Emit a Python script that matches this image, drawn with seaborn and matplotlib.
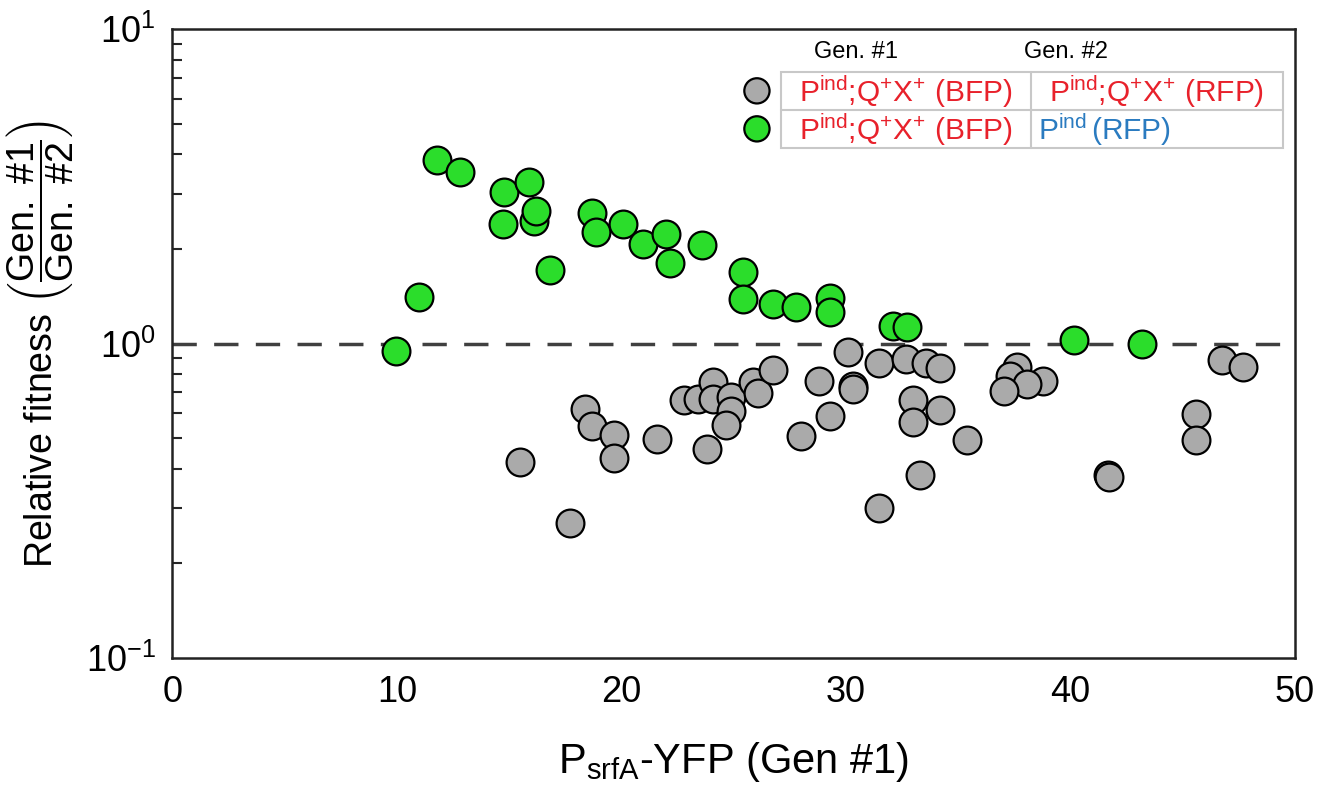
import numpy as np
import pandas as pd
import matplotlib
matplotlib.use('Agg')
import matplotlib.pyplot as plt
import seaborn as sns
from matplotlib.patches import Rectangle

# values
gray_x = [15.49, 18.39, 18.68, 19.69, 19.69, 17.69, 21.59, 22.77, 23.39, 24.07,
          24.07, 24.87, 24.87, 24.66, 23.8, 25.88, 26.1, 26.77, 27.99, 28.79,
          29.28, 30.07, 30.33, 30.33, 31.49, 32.67, 33.56, 34.19, 32.98, 32.98,
          34.19, 35.38, 33.3, 31.49, 37.64, 37.3, 38.79, 38.07, 37.06, 41.68,
          41.7, 46.76, 47.68, 45.57, 45.57]
gray_y = [0.421, 0.620, 0.547, 0.511, 0.432, 0.269, 0.499, 0.660, 0.666, 0.756,
          0.665, 0.676, 0.611, 0.551, 0.461, 0.756, 0.697, 0.823, 0.510, 0.763,
          0.588, 0.942, 0.732, 0.72, 0.869, 0.894, 0.869, 0.839, 0.664, 0.563,
          0.617, 0.492, 0.383, 0.299, 0.843, 0.79, 0.761, 0.746, 0.705, 0.381,
          0.376, 0.886, 0.840, 0.596, 0.492]

green_x = [11.78, 12.79, 14.78, 15.9, 14.71, 16.09, 16.19, 16.8, 11.0, 9.97,
           18.69, 18.89, 20.08, 20.98, 21.99, 22.17, 23.58, 25.41, 25.41, 26.77,
           27.77, 29.3, 29.3, 32.09, 32.71, 40.17, 43.19]
green_y = [3.83, 3.52, 3.04, 3.28, 2.40, 2.45, 2.65, 1.72, 1.41, 0.948,
           2.61, 2.26, 2.40, 2.08, 2.24, 1.80, 2.06, 1.69, 1.39, 1.34,
           1.31, 1.40, 1.26, 1.14, 1.13, 1.03, 1.00]

gray = pd.DataFrame({'x': gray_x, 'y': gray_y})
green = pd.DataFrame({'x': green_x, 'y': green_y})

sns.set_style('white')
plt.rcParams['font.family'] = ['Liberation Sans', 'DejaVu Sans']
plt.rcParams['mathtext.fontset'] = 'custom'
plt.rcParams['mathtext.rm'] = 'Liberation Sans'
plt.rcParams['mathtext.it'] = 'Liberation Sans:italic'
plt.rcParams['mathtext.bf'] = 'Liberation Sans:bold'
plt.rcParams['text.color'] = 'black'
plt.rcParams['axes.labelcolor'] = 'black'

RED = '#e8212b'
BLUE = '#2a7bc0'

fig = plt.figure(figsize=(13.26, 7.97), dpi=100)
ax = fig.add_axes([0.1300, 0.1744, 0.8466, 0.7888])

sns.scatterplot(data=gray, x='x', y='y', ax=ax, s=400, color='#aaaaaa',
                edgecolor='black', linewidth=1.6, zorder=3)
sns.scatterplot(data=green, x='x', y='y', ax=ax, s=400, color='#2bdd2b',
                edgecolor='black', linewidth=1.6, zorder=3)
ax.axhline(1.0, color='#404040', lw=2.5, dashes=(7, 5), zorder=2)

ax.set_yscale('log')
ax.set_xlim(0, 50)
ax.set_ylim(0.1, 10)
ax.set_xticks([0, 10, 20, 30, 40, 50])
ax.tick_params(axis='both', which='major', direction='in', length=11, width=1.5,
               labelsize=26, colors='black', pad=12)
ax.tick_params(axis='y', which='minor', direction='in', length=7, width=1.5, left=True)
ax.tick_params(axis='x', which='minor', bottom=False)
for sp in ax.spines.values():
    sp.set_linewidth(1.8)
    sp.set_color('#222222')

ax.set_xlabel(r'P$_{\mathrm{srfA}}$-YFP (Gen #1)', fontsize=30, labelpad=22)
ax.set_ylabel(r'Relative fitness $\left(\dfrac{\mathrm{Gen.\ \#1}}{\mathrm{Gen.\ \#2}}\right)$',
              fontsize=27, labelpad=8)

# legend table drawn in axes fraction coordinates
def fx(px):
    return (px - 172.5) / (1295 - 172.5)

def fy(py):
    return (658 - py) / (658 - 29.5)

tl, tm, tr = fx(781), fx(1031), fx(1283)
r0, r1, r2 = fy(72), fy(110), fy(148)
ax.add_patch(Rectangle((tl, r2), tr - tl, r0 - r2, transform=ax.transAxes,
                       fill=True, facecolor='white', edgecolor='#c8c8c8', lw=1.5, zorder=4))
ax.plot([tl, tr], [r1, r1], transform=ax.transAxes, color='#c8c8c8', lw=1.5, zorder=5)
ax.plot([tm, tm], [r0, r2], transform=ax.transAxes, color='#c8c8c8', lw=1.5, zorder=5)

ax.text(fx(856), fy(52), 'Gen. #1', transform=ax.transAxes, ha='center', va='center',
        fontsize=17, zorder=6)
ax.text(fx(1066), fy(52), 'Gen. #2', transform=ax.transAxes, ha='center', va='center',
        fontsize=17, zorder=6)

lab = r'P$^{\mathrm{ind}}$;Q$^{+}$X$^{+}$'
fs = 21.5
ax.text(fx(906), fy(92), lab + ' (BFP)', transform=ax.transAxes, ha='center',
        va='center', fontsize=fs, color=RED, zorder=6)
ax.text(fx(1157), fy(92), lab + ' (RFP)', transform=ax.transAxes, ha='center',
        va='center', fontsize=fs, color=RED, zorder=6)
ax.text(fx(906), fy(130), lab + ' (BFP)', transform=ax.transAxes, ha='center',
        va='center', fontsize=fs, color=RED, zorder=6)
ax.text(fx(1038), fy(130), r'P$^{\mathrm{ind}}\,$(RFP)', transform=ax.transAxes, ha='left',
        va='center', fontsize=fs, color=BLUE, zorder=6)

ax.scatter([fx(757), fx(757)], [fy(91), fy(129)], transform=ax.transAxes, s=330,
           c=['#aaaaaa', '#2bdd2b'], edgecolors='black', linewidths=1.6, zorder=6,
           clip_on=False)

fig.savefig('out.png', dpi=100)
